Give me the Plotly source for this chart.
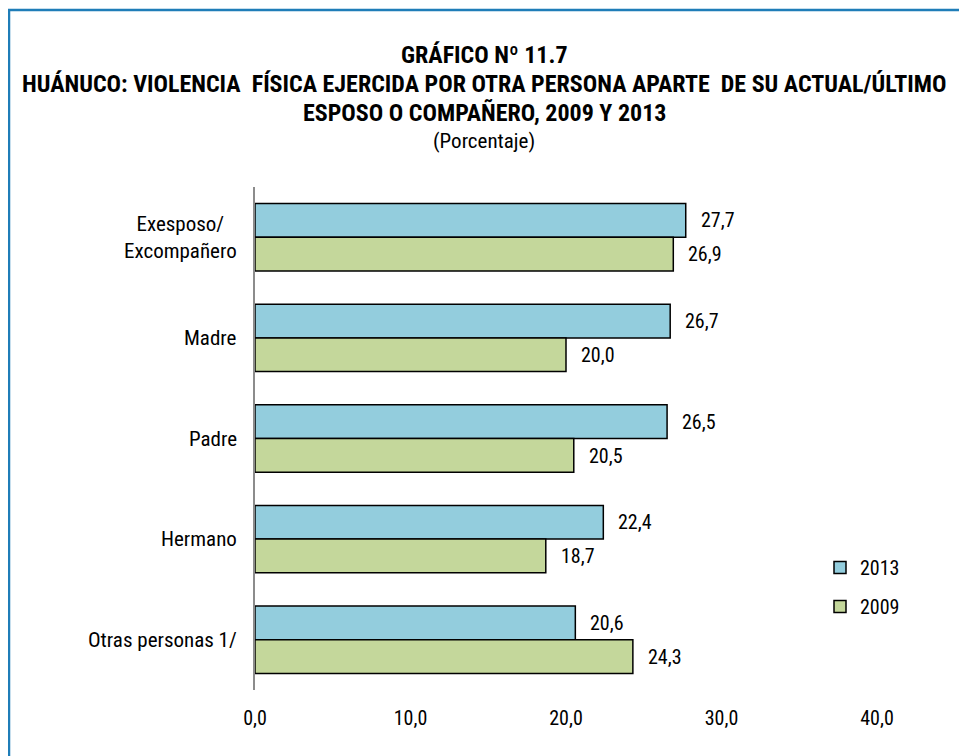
import plotly.graph_objects as go

categories = ["Exesposo/<br>Excompañero", "Madre", "Padre", "Hermano", "Otras personas 1/"]
values_2013 = [27.7, 26.7, 26.5, 22.4, 20.6]
values_2009 = [26.9, 20.0, 20.5, 18.7, 24.3]
x_ticks = [0, 10, 20, 30, 40]
x_tick_labels = ["0,0", "10,0", "20,0", "30,0", "40,0"]

# page has an 8px body margin: figure pixel = screen pixel - 8
OFF = 8
W, H = 959, 748
L = 255 - OFF
R = W - (877 - OFF)
T = 187 - OFF
B = H - (690 - OFF)
PW, PH = W - L - R, H - T - B

def px_x(sx):
    return (sx - OFF - L) / PW

def px_y(sy):
    return (H - B - (sy - OFF)) / PH

FONT = "Roboto Condensed, Arial Narrow, Liberation Sans, sans-serif"
FS = 20

def fmt(v):
    return f"{v:.1f}".replace(".", ",")

fig = go.Figure()
fig.add_trace(go.Bar(
    y=categories, x=values_2013, orientation="h", name="2013",
    marker=dict(color="#93CDDD", line=dict(color="#000000", width=1.5)),
    legendgroup="a", hoverinfo="skip",
))
fig.add_trace(go.Bar(
    y=categories, x=values_2009, orientation="h", name="2009",
    marker=dict(color="#C4D79B", line=dict(color="#000000", width=1.5)),
    legendgroup="b", hoverinfo="skip",
))

annotations = []
for i, cat in enumerate(categories):
    for vals, shift in ((values_2013, 17), (values_2009, -17)):
        annotations.append(dict(
            x=vals[i], y=cat, xref="x", yref="y", text=fmt(vals[i]),
            showarrow=False, xanchor="left", yanchor="middle",
            xshift=13, yshift=shift,
            font=dict(family=FONT, size=FS, color="#000000"),
        ))
    # category labels (centered multi-line, right of text at the axis)
    annotations.append(dict(
        x=0, y=cat, xref="x", yref="y", text=cat,
        showarrow=False, xanchor="right", yanchor="middle", align="center",
        xshift=-16,
        font=dict(family=FONT, size=21, color="#000000"),
    ))

title_lines = [
    ("<b>GRÁFICO Nº 11.7</b>", 55, 24),
    ("<b>HUÁNUCO: VIOLENCIA  FÍSICA EJERCIDA POR OTRA PERSONA APARTE  DE SU ACTUAL/ÚLTIMO</b>", 84, 24),
    ("<b>ESPOSO O COMPAÑERO, 2009 Y 2013</b>", 113, 24),
    ("(Porcentaje)", 141, 21),
]
for txt, sy, size in title_lines:
    annotations.append(dict(
        x=px_x(484), y=px_y(sy), xref="paper", yref="paper", text=txt,
        showarrow=False, xanchor="center", yanchor="middle",
        font=dict(family=FONT, size=size, color="#000000"),
    ))

fig.update_layout(
    width=W, height=H,
    margin=dict(l=L, r=R, t=T, b=B, pad=0),
    paper_bgcolor="#FFFFFF", plot_bgcolor="#FFFFFF",
    barmode="group", bargap=0.33, bargroupgap=0,
    font=dict(family=FONT, size=FS, color="#000000"),
    xaxis=dict(
        range=[0, 40], tickvals=x_ticks, ticktext=x_tick_labels,
        showgrid=False, zeroline=False, showline=False, ticks="",
        ticklabelstandoff=14, fixedrange=True,
        tickfont=dict(family=FONT, size=FS, color="#000000"),
    ),
    yaxis=dict(
        autorange="reversed", showgrid=False, zeroline=False,
        showline=True, linecolor="#8C8C8C", linewidth=2, ticks="",
        showticklabels=False,
    ),
    legend=dict(
        x=px_x(820), y=px_y(548), xanchor="left", yanchor="top",
        bgcolor="rgba(0,0,0,0)", tracegroupgap=10,
        font=dict(family=FONT, size=FS, color="#000000"),
        itemwidth=30,
    ),
    annotations=annotations,
    shapes=[
        dict(type="line", xref="paper", yref="paper",
             x0=px_x(9), x1=px_x(9), y0=px_y(10), y1=px_y(770),
             line=dict(color="#1F7DB8", width=2.5)),
        dict(type="line", xref="paper", yref="paper",
             x0=px_x(8), x1=px_x(980), y0=px_y(10), y1=px_y(10),
             line=dict(color="#1F7DB8", width=2.5)),
    ],
)

fig.write_html("out.html")
